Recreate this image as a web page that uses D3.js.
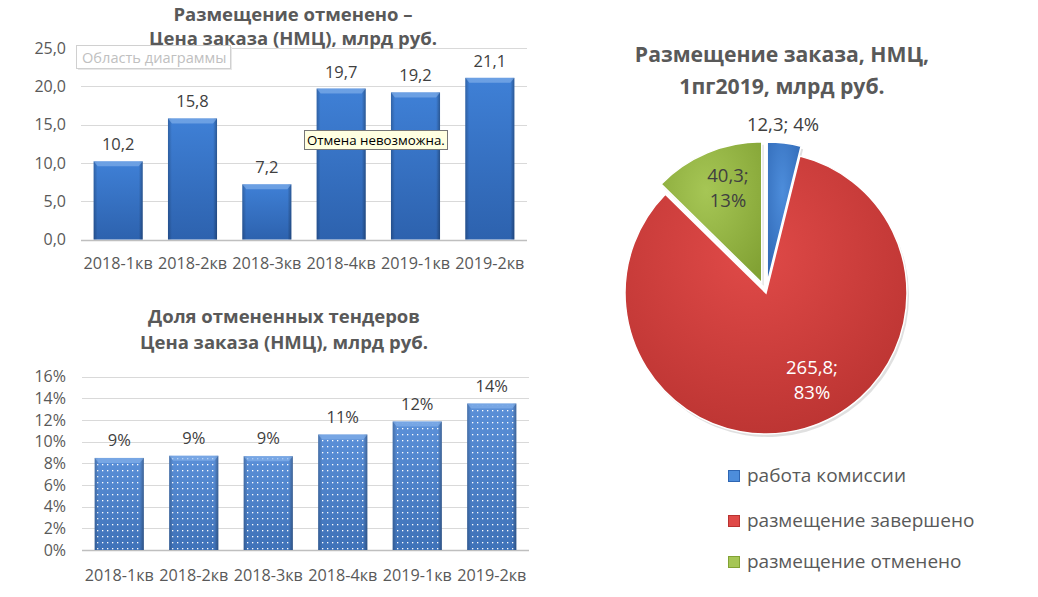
<!DOCTYPE html>
<html>
<head>
<meta charset="utf-8">
<script src="https://cdn.jsdelivr.net/npm/d3@7"></script>
<style>
  html, body { margin: 0; padding: 0; background: #ffffff; }
  svg { display: block; }
  text { font-family: "Open Sans", "DejaVu Sans", sans-serif; }
</style>
</head>
<body>
<div id="chart"></div>
<script>
'use strict';

// data
var quarters = ['2018-1кв', '2018-2кв', '2018-3кв', '2018-4кв', '2019-1кв', '2019-2кв'];
var cancelledValues = [10.2, 15.8, 7.2, 19.7, 19.2, 21.1];
var cancelledShare = [0.085, 0.087, 0.0866, 0.1066, 0.1186, 0.1352];
var valueTicks = [0, 5, 10, 15, 20, 25];
var shareTicks = [0, 0.02, 0.04, 0.06, 0.08, 0.10, 0.12, 0.14, 0.16];
var pieNames = ['работа комиссии', 'размещение завершено', 'размещение отменено'];
var pieValues = [12.3, 265.8, 40.3];

var W = 1038, H = 597;
var textGrey = '#595959';
var comma = function(v) { return v.toFixed(1).replace('.', ','); };

var svg = d3.select('#chart').append('svg')
    .attr('width', W)
    .attr('height', H);

var defs = svg.append('defs');

function addGradient(id, top, bottom) {
    var g = defs.append('linearGradient')
        .attr('id', id)
        .attr('x1', 0).attr('y1', 0)
        .attr('x2', 0).attr('y2', 1);
    g.append('stop').attr('offset', '0%').attr('stop-color', top);
    g.append('stop').attr('offset', '100%').attr('stop-color', bottom);
}
addGradient('barGrad', '#3f80d6', '#2d62ae');
addGradient('barGrad2', '#5b90d8', '#3f72b8');

var side = defs.append('linearGradient').attr('id', 'sideGrad')
    .attr('x1', 0).attr('y1', 0).attr('x2', 1).attr('y2', 0);
side.append('stop').attr('offset', '0%').attr('stop-color', '#000').attr('stop-opacity', 0.22);
side.append('stop').attr('offset', '8%').attr('stop-color', '#000').attr('stop-opacity', 0);
side.append('stop').attr('offset', '92%').attr('stop-color', '#000').attr('stop-opacity', 0);
side.append('stop').attr('offset', '100%').attr('stop-color', '#000').attr('stop-opacity', 0.3);

var dots = defs.append('pattern')
    .attr('id', 'dots')
    .attr('width', 5).attr('height', 6)
    .attr('patternUnits', 'userSpaceOnUse');
dots.append('rect').attr('x', 2).attr('y', 2).attr('width', 1.3).attr('height', 1.3)
    .attr('fill', '#ffffff');

var pieColors = [['#4d8ddb', '#2e66b3'], ['#e04a48', '#b83230'], ['#a6c655', '#82a234']];
pieColors.forEach(function(c, i) {
    var g = defs.append('radialGradient')
        .attr('id', 'pieGrad' + i)
        .attr('cx', '45%').attr('cy', '35%').attr('r', '75%');
    g.append('stop').attr('offset', '0%').attr('stop-color', c[0]);
    g.append('stop').attr('offset', '100%').attr('stop-color', c[1]);
});

// bar chart builder
function drawBars(cfg) {
    var g = svg.append('g');

    var x = d3.scaleBand()
        .domain(quarters)
        .range([cfg.left, cfg.right])
        .paddingInner(0.34)
        .paddingOuter(0.17);

    var y = d3.scaleLinear()
        .domain([0, cfg.max])
        .range([cfg.bottom, cfg.top]);

    g.selectAll('line.grid')
        .data(cfg.ticks)
        .enter().append('line')
        .attr('x1', cfg.left).attr('x2', cfg.right)
        .attr('y1', function(d) { return Math.round(y(d)) + 0.5; })
        .attr('y2', function(d) { return Math.round(y(d)) + 0.5; })
        .attr('stroke', function(d) { return d === 0 ? '#bfbfbf' : '#d9d9d9'; })
        .attr('stroke-width', function(d) { return d === 0 ? 1.5 : 1; });

    var yAxis = d3.axisLeft(y)
        .tickValues(cfg.ticks)
        .tickFormat(cfg.tickFormat)
        .tickSize(0)
        .tickPadding(0);
    var ya = g.append('g')
        .attr('transform', 'translate(' + cfg.labelX + ',0)')
        .call(yAxis);
    ya.select('.domain').remove();
    ya.selectAll('text')
        .attr('font-family', '"Open Sans", sans-serif')
        .attr('font-size', 16)
        .attr('fill', textGrey);

    var xAxis = d3.axisBottom(x).tickSize(0).tickPadding(0);
    var xa = g.append('g')
        .attr('transform', 'translate(0,' + cfg.catY + ')')
        .call(xAxis);
    xa.select('.domain').remove();
    xa.selectAll('text')
        .attr('font-family', '"Open Sans", sans-serif')
        .attr('font-size', 16.2)
        .attr('fill', textGrey)
        .attr('dy', 0);

    var bars = g.selectAll('g.bar')
        .data(cfg.values)
        .enter().append('g')
        .attr('class', 'bar');

    bars.append('rect')
        .attr('x', function(d, i) { return x(quarters[i]); })
        .attr('y', function(d) { return y(d); })
        .attr('width', x.bandwidth())
        .attr('height', function(d) { return cfg.bottom - y(d); })
        .attr('fill', cfg.fill);

    if (cfg.pattern) {
        bars.append('rect')
            .attr('x', function(d, i) { return x(quarters[i]) + 2; })
            .attr('y', function(d) { return y(d) + 2; })
            .attr('width', x.bandwidth() - 4)
            .attr('height', function(d) { return Math.max(0, cfg.bottom - y(d) - 2); })
            .attr('fill', 'url(#dots)');
    }

    bars.append('rect')
        .attr('x', function(d, i) { return x(quarters[i]); })
        .attr('y', function(d) { return y(d); })
        .attr('width', x.bandwidth())
        .attr('height', function(d) { return cfg.bottom - y(d); })
        .attr('fill', 'url(#sideGrad)');

    // top bevel
    bars.append('path')
        .attr('d', function(d, i) {
            var x0 = x(quarters[i]), x1 = x0 + x.bandwidth(), t = y(d);
            return 'M' + x0 + ',' + t + 'L' + x1 + ',' + t + 'L' + (x1 - 4) + ',' + (t + 5) +
                'L' + (x0 + 4) + ',' + (t + 5) + 'Z';
        })
        .attr('fill', '#8ab6ec')
        .attr('opacity', 0.6);

    bars.append('text')
        .attr('x', function(d, i) { return x(quarters[i]) + x.bandwidth() / 2; })
        .attr('y', function(d) { return y(d) - cfg.labelGap; })
        .attr('text-anchor', 'middle')
        .attr('font-size', 16.5)
        .attr('fill', '#404040')
        .text(cfg.valueFormat);

    var title = g.append('text')
        .attr('text-anchor', 'middle')
        .attr('font-weight', 'bold')
        .attr('font-size', 18.5)
        .attr('fill', textGrey);
    cfg.title.forEach(function(line, i) {
        title.append('tspan')
            .attr('x', cfg.titleX)
            .attr('y', cfg.titleY[i])
            .text(line);
    });

    return g;
}

drawBars({
    values: cancelledValues,
    ticks: valueTicks,
    max: 25,
    left: 81, right: 527, top: 48, bottom: 239.5,
    labelX: 66, catY: 269,
    labelGap: 11,
    fill: 'url(#barGrad)',
    pattern: false,
    tickFormat: comma,
    valueFormat: comma,
    title: ['Размещение отменено –', 'Цена заказа (НМЦ), млрд руб.'],
    titleX: 293, titleY: [20.5, 44.5]
});

drawBars({
    values: cancelledShare,
    ticks: shareTicks,
    max: 0.16,
    left: 82, right: 529, top: 376.7, bottom: 550,
    labelX: 66, catY: 581,
    labelGap: 12,
    fill: 'url(#barGrad2)',
    pattern: true,
    tickFormat: d3.format('.0%'),
    valueFormat: d3.format('.0%'),
    title: ['Доля отмененных тендеров', 'Цена заказа (НМЦ), млрд руб.'],
    titleX: 284, titleY: [323, 349]
});

// screen tooltips captured in the picture
var tip1 = svg.append('g');
tip1.append('rect').attr('x', 78).attr('y', 47).attr('width', 154).attr('height', 23)
    .attr('fill', '#e8e8e8');
tip1.append('rect').attr('x', 76.5).attr('y', 45.5).attr('width', 154).attr('height', 23)
    .attr('fill', '#ffffff').attr('stroke', '#d0d0d0');
tip1.append('text').attr('x', 82).attr('y', 62.5).attr('font-size', 14.6)
    .attr('fill', '#c0c0c0').text('Область диаграммы');

var tip2 = svg.append('g');
tip2.append('rect').attr('x', 304.5).attr('y', 130.5).attr('width', 143).attr('height', 19)
    .attr('fill', '#ffffe1').attr('stroke', '#767676');
tip2.append('text').attr('x', 307).attr('y', 145).attr('font-size', 13.3)
    .attr('fill', '#000000').text('Отмена невозможна.');

// pie
var cx = 766, cy = 293, radius = 141;
var explode = [10, 0, 11];

var pie = d3.pie().sort(null).value(function(d) { return d; });
var arcs = pie(pieValues);
var arc = d3.arc().innerRadius(0).outerRadius(radius);
var total = d3.sum(pieValues);

var pg = svg.append('g').attr('transform', 'translate(' + cx + ',' + cy + ')');

var slices = pg.selectAll('g.slice')
    .data(arcs)
    .enter().append('g')
    .attr('class', 'slice')
    .attr('transform', function(d, i) {
        var a = (d.startAngle + d.endAngle) / 2;
        return 'translate(' + (Math.sin(a) * explode[i]) + ',' + (-Math.cos(a) * explode[i]) + ')';
    });

slices.append('path')
    .attr('d', arc)
    .attr('fill', '#000')
    .attr('opacity', 0.12)
    .attr('transform', 'translate(2,3)');

slices.append('path')
    .attr('d', arc)
    .attr('fill', function(d, i) { return 'url(#pieGrad' + i + ')'; })
    .attr('stroke', '#ffffff')
    .attr('stroke-width', 1.5);

var pieLabelPos = [
    { x: 783, y: [131], color: '#404040' },
    { x: 812, y: [374, 399], color: '#ffffff' },
    { x: 728, y: [182, 207], color: '#404040' }
];

arcs.forEach(function(d, i) {
    var pct = Math.round(d.value / total * 100) + '%';
    var val = comma(d.value);
    var lines = pieLabelPos[i].y.length === 1 ? [val + '; ' + pct] : [val + ';', pct];
    var t = svg.append('text')
        .attr('text-anchor', 'middle')
        .attr('font-size', 18.5)
        .attr('fill', pieLabelPos[i].color);
    lines.forEach(function(line, j) {
        t.append('tspan')
            .attr('x', pieLabelPos[i].x)
            .attr('y', pieLabelPos[i].y[j])
            .text(line);
    });
});

var pieTitle = svg.append('text')
    .attr('text-anchor', 'middle')
    .attr('font-weight', 'bold')
    .attr('font-size', 21.2)
    .attr('fill', textGrey);
['Размещение заказа, НМЦ,', '1пг2019, млрд руб.'].forEach(function(line, i) {
    pieTitle.append('tspan')
        .attr('x', 782)
        .attr('y', [62, 94][i])
        .text(line);
});

// legend
var legend = svg.append('g');
var legendY = [482, 527, 568];
pieNames.forEach(function(name, i) {
    legend.append('rect')
        .attr('x', 728.5).attr('y', legendY[i] - 11.5)
        .attr('width', 11).attr('height', 11)
        .attr('fill', pieColors[i][0])
        .attr('stroke', pieColors[i][1]);
    legend.append('text')
        .attr('x', 747).attr('y', legendY[i])
        .attr('font-size', 19)
        .attr('fill', textGrey)
        .text(name);
});
</script>
</body>
</html>
